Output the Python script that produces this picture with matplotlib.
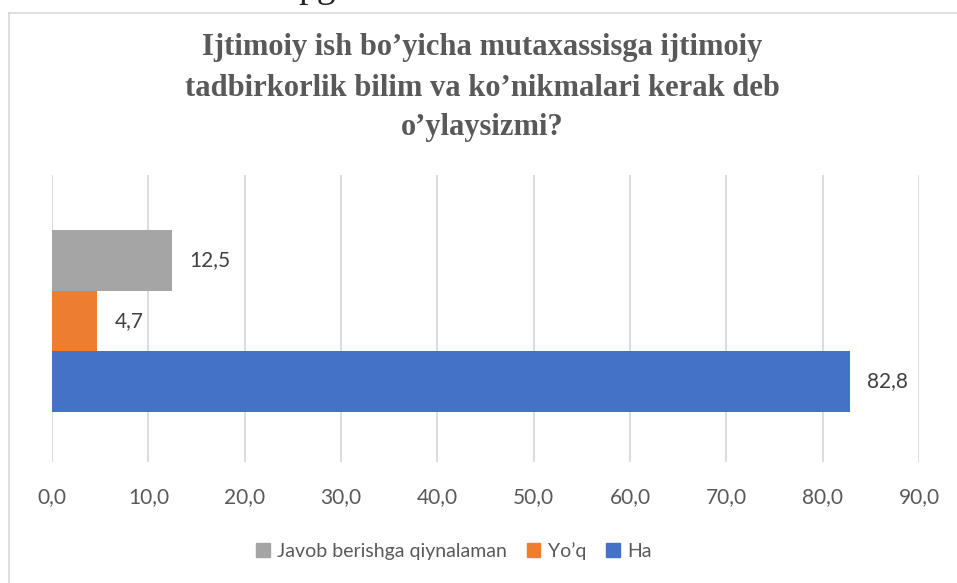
import matplotlib.pyplot as plt
from matplotlib.patches import Patch
from matplotlib.lines import Line2D

# data
categories = ['Ha', 'Yo\u2019q', 'Javob berishga qiynalaman']
values = [82.8, 4.7, 12.5]
colors = ['#4472C4', '#ED7D31', '#A5A5A5']
xticks = [0, 10, 20, 30, 40, 50, 60, 70, 80, 90]

title = ('Ijtimoiy ish bo\u2019yicha mutaxassisga ijtimoiy\n'
         'tadbirkorlik bilim va ko\u2019nikmalari kerak deb\n'
         'o\u2019ylaysizmi?')

W, H = 957, 583
fig = plt.figure(figsize=(W / 100, H / 100), dpi=100)
ax = fig.add_axes([52 / W, 1 - 462 / H, (919 - 52) / W, (462 - 175) / H])

# chart border (left and top only visible)
fig.add_artist(Line2D([8.5 / W, 8.5 / W], [-0.01, 1 - 12.5 / H], color='#d9d9d9', lw=1.2,
                      transform=fig.transFigure))
fig.add_artist(Line2D([8.5 / W, 1.01], [1 - 12.5 / H, 1 - 12.5 / H], color='#d9d9d9', lw=1.2,
                      transform=fig.transFigure))
# cut off text from the page above
fig.text(298 / W, 1 + 3 / H, 'pg', family='Liberation Serif', fontsize=27, color='#222222',
         va='baseline', ha='left')

offsets = [-1, 0, 1]
for off, v, c, lab in zip(offsets, values, colors, categories):
    ax.barh(off, v, height=1.0, color=c, zorder=3, label=lab)
    ax.text(v + 1.8, off, ('%.1f' % v).replace('.', ','), va='center', ha='left',
            family='Lato', fontsize=15, color='#404040')

ax.set_xlim(0, 90)
ax.set_ylim(-2.33, 2.41)
ax.set_xticks(xticks)
ax.set_xticklabels([('%.1f' % t).replace('.', ',') for t in xticks], family='Lato',
                   fontsize=15, color='#595959')
ax.set_yticks([])
ax.tick_params(axis='x', length=0, pad=18)
ax.grid(axis='x', color='#d9d9d9', lw=1.3, zorder=0)
for s in ax.spines.values():
    s.set_visible(False)

fig.text(482 / W, 1 - 88 / H, title, ha='center', va='center', family='Liberation Serif',
         fontweight='bold', fontsize=22, color='#595959', linespacing=1.5)

handles = [Patch(color=colors[2]), Patch(color=colors[1]), Patch(color=colors[0])]
labels = [categories[2], categories[1], categories[0]]
fig.legend(handles, labels, loc='center', bbox_to_anchor=(454 / W, 1 - 551 / H), ncol=3,
           frameon=False, prop={'family': 'Lato', 'size': 14}, handlelength=0.7,
           handleheight=0.7, handletextpad=0.4, columnspacing=1.0, labelcolor='#595959')

fig.savefig('out.png', dpi=100)
